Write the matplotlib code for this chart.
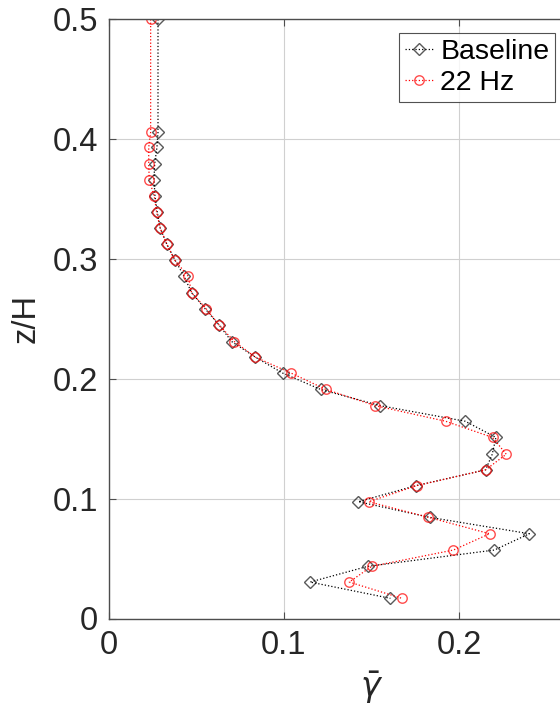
import numpy as np
import matplotlib.pyplot as plt

plt.rcParams['font.family'] = ['Liberation Sans', 'DejaVu Sans']
plt.rcParams['mathtext.fontset'] = 'dejavusans'

# profils : z/H et gamma moyen
z = [0.4997, 0.4055, 0.393, 0.379, 0.3657, 0.352, 0.339, 0.3254, 0.312,
     0.299, 0.2854, 0.2717, 0.2584, 0.2448, 0.231, 0.218, 0.2047, 0.191,
     0.1775, 0.1645, 0.151, 0.137, 0.124, 0.1108, 0.0974, 0.0844, 0.0707,
     0.0571, 0.0435, 0.0304, 0.0168]

gamma_base = [0.028, 0.028, 0.0274, 0.0261, 0.0257, 0.0263, 0.0276, 0.0293,
              0.0331, 0.0377, 0.0429, 0.0472, 0.0549, 0.0629, 0.0701, 0.0836,
              0.0992, 0.121, 0.155, 0.2036, 0.2211, 0.219, 0.2152, 0.1754,
              0.1425, 0.1832, 0.2402, 0.2202, 0.1478, 0.1149, 0.1608]

gamma_22hz = [0.0238, 0.0238, 0.0227, 0.0227, 0.023, 0.0259, 0.0272, 0.0293,
              0.0331, 0.0375, 0.0453, 0.0472, 0.0555, 0.0629, 0.0716, 0.0836,
              0.104, 0.124, 0.1522, 0.1924, 0.2192, 0.227, 0.2152, 0.1758,
              0.1484, 0.1825, 0.2175, 0.1968, 0.1501, 0.1373, 0.1674]

x_ticks = [0, 0.1, 0.2]
x_labels = ['0', '0.1', '0.2']
y_ticks = [0, 0.1, 0.2, 0.3, 0.4, 0.5]
y_labels = ['0', '0.1', '0.2', '0.3', '0.4', '0.5']

fig = plt.figure(figsize=(5.6, 7.15), dpi=100)
# l'axe depasse a droite (figure coupee)
ax = fig.add_axes([109/560, 96.5/715, 525/560, 599.5/715])

ax.plot(gamma_base, z, ':', color='k', lw=0.9, marker='D', ms=6.5,
        mfc='none', mec=(0, 0, 0, 0.65), mew=1.0, label='Baseline')
ax.plot(gamma_22hz, z, ':', color='r', lw=0.9, marker='o', ms=6.8,
        mfc='none', mec=(1, 0, 0, 0.7), mew=1.0, label='22 Hz')

ax.set_xlim(0, 0.3)
ax.set_ylim(0, 0.5)
ax.set_xticks(x_ticks)
ax.set_xticklabels(x_labels)
ax.set_yticks(y_ticks)
ax.set_yticklabels(y_labels)

ax.grid(True, color='#d0d0d0', lw=0.8)
ax.set_axisbelow(True)
for s in ax.spines.values():
    s.set_color('#4d4d4d')
    s.set_linewidth(1.0)
ax.tick_params(direction='in', top=True, right=True, length=5, width=0.8,
               colors='#4d4d4d', labelsize=23.5, labelcolor='#262626', pad=8)

ax.set_xlabel(r'$\bar{\gamma}$', fontsize=24, color='#262626', labelpad=6)
ax.set_ylabel('z/H', fontsize=23.5, color='#262626', labelpad=8)

# legende placee en coordonnees figure
leg = ax.legend(loc='upper right', bbox_to_anchor=(555/560, 1 - 33/715),
                bbox_transform=fig.transFigure, fontsize=20.5, frameon=True,
                fancybox=False, edgecolor='#262626', handlelength=1.0,
                handletextpad=0.25, borderpad=0.2, labelspacing=0.2,
                borderaxespad=0)
leg.get_frame().set_linewidth(0.8)

plt.savefig('out.png', dpi=100)
